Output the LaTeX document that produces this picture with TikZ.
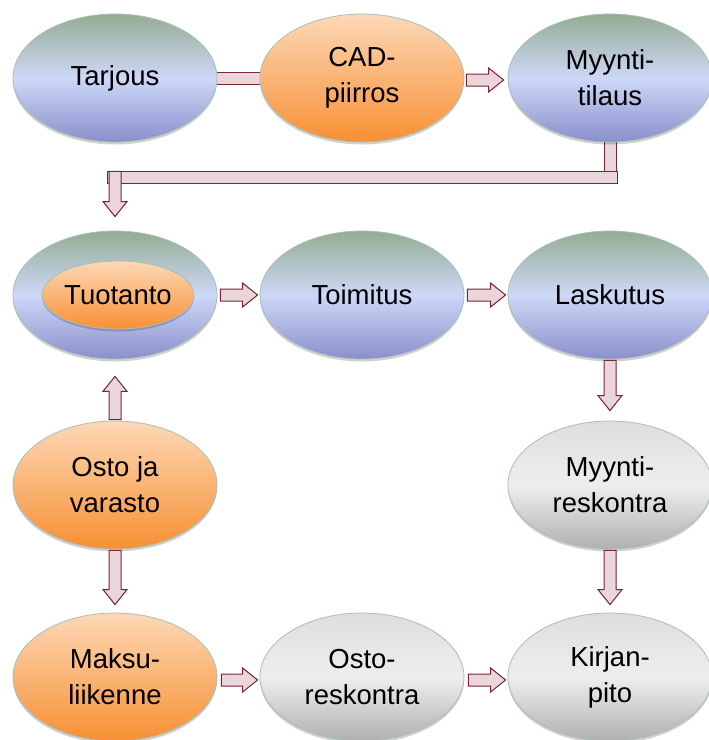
\documentclass[tikz,border=0pt]{standalone}
\usepackage{fontspec}
\setmainfont{Liberation Sans}
\usetikzlibrary{shapes.geometric,calc,backgrounds,shadows}

\definecolor{bluetop}{RGB}{148,172,148}
\definecolor{bluemid}{RGB}{206,216,247}
\definecolor{bluebot}{RGB}{138,143,204}
\definecolor{orgtop}{RGB}{253,216,182}
\definecolor{orgbot}{RGB}{248,144,52}
\definecolor{grytop}{RGB}{222,222,222}
\definecolor{grymid}{RGB}{238,238,238}
\definecolor{grybot}{RGB}{176,176,176}
\definecolor{rim}{RGB}{165,192,182}
\definecolor{arrowline}{RGB}{122,36,52}
\definecolor{arrowfill}{RGB}{234,214,218}

\tikzset{
  oval/.style={ellipse, draw=rim, line width=0.8pt, minimum width=204pt,
    minimum height=128pt, inner sep=0pt, align=center,
    font=\fontsize{27.5}{36}\selectfont,
    drop shadow={shadow xshift=0pt, shadow yshift=-2.5pt, opacity=0.18, fill=black}},
  blueoval/.style={oval, top color=bluetop, bottom color=bluebot, middle color=bluemid},
  orangeoval/.style={oval, top color=orgtop, bottom color=orgbot},
  grayoval/.style={oval, top color=grytop, bottom color=grybot, middle color=grymid},
  fat/.style={draw=arrowline, fill=arrowfill, line width=1pt, line join=miter}
}

% block arrow from #1 to the tip #2
\newcommand\fatarrow[2]{%
  \path #1 coordinate (fa-s) #2 coordinate (fa-t);
  \coordinate (fa-b) at ($(fa-t)!15pt!(fa-s)$);
  \draw[fat] ($(fa-s)!6pt!90:(fa-t)$) -- ($(fa-b)!6pt!-90:(fa-s)$)
    -- ($(fa-b)!12pt!-90:(fa-s)$) -- (fa-t) -- ($(fa-b)!12pt!90:(fa-s)$)
    -- ($(fa-b)!6pt!90:(fa-s)$) -- ($(fa-s)!6pt!-90:(fa-t)$) -- cycle;}
% plain bar from #1 to #2
\newcommand\fatbar[2]{%
  \path #1 coordinate (fa-s) #2 coordinate (fa-t);
  \draw[fat] ($(fa-s)!6pt!90:(fa-t)$) -- ($(fa-t)!6pt!-90:(fa-s)$)
    -- ($(fa-t)!6pt!90:(fa-s)$) -- ($(fa-s)!6pt!-90:(fa-t)$) -- cycle;}

\begin{document}
\begin{tikzpicture}[x=1pt,y=-1pt]
\useasboundingbox (0,0) rectangle (709,740);

% first row
\node[blueoval]   (tar) at (115,78) {Tarjous};
\node[orangeoval] (cad) at (362,78) {CAD-\\piirros};
\node[blueoval]   (myt) at (610,78) {Myynti-\\tilaus};
% second row
\node[blueoval]   (tuo) at (115,295) {};
\node[orangeoval, minimum width=148pt, minimum height=68pt] (tuoin) at (118,295) {Tuotanto};
\node[blueoval]   (toi) at (362,295) {Toimitus};
\node[blueoval]   (las) at (610,295) {Laskutus};
% third row
\node[orangeoval] (ost) at (115,485) {Osto ja\\varasto};
\node[grayoval]   (myr) at (610,485) {Myynti-\\reskontra};
% fourth row
\node[orangeoval] (mak) at (115,677) {Maksu-\\liikenne};
\node[grayoval]   (osr) at (362,677) {Osto-\\reskontra};
\node[grayoval]   (kir) at (610,677) {Kirjan-\\pito};

\begin{pgfonlayer}{background}
  \fill[white] (0,0) rectangle (709,740);
  \fatbar{($(tar.east)+(-6,0)$)}{($(cad.west)+(6,0)$)}
  \fatbar{($(myt.south)+(0,-6)$)}{($(myt.south)+(0,35)$)}
\end{pgfonlayer}

% order flow from the sales order down to production
\coordinate (kneeR) at ($(myt.south)+(0,35)$);
\coordinate (kneeL) at (tuo.north |- kneeR);
\fatbar{($(kneeR)+(7,0)$)}{($(kneeL)+(-8,0)$)}
\fatarrow{($(kneeL)+(0,-6)$)}{($(tuo.north)+(0,-14)$)}

\fatarrow{($(cad.east)+(2,2)$)}{($(myt.west)+(-4,2)$)}
\fatarrow{($(tuo.east)+(3,0)$)}{($(toi.west)+(-2,0)$)}
\fatarrow{($(toi.east)+(3,0)$)}{($(las.west)+(-2,0)$)}
\fatarrow{($(las.south)+(0,1)$)}{($(myr.north)+(0,-10)$)}
\fatarrow{($(myr.south)+(0,1)$)}{($(kir.north)+(0,-8)$)}
\fatarrow{($(ost.north)+(0,-1)$)}{($(tuo.south)+(0,17)$)}
\fatarrow{($(ost.south)+(0,1)$)}{($(mak.north)+(0,-8)$)}
\fatarrow{($(mak.east)+(4,3)$)}{($(osr.west)+(-2,3)$)}
\fatarrow{($(osr.east)+(4,3)$)}{($(kir.west)+(-2,3)$)}
\end{tikzpicture}
\end{document}
